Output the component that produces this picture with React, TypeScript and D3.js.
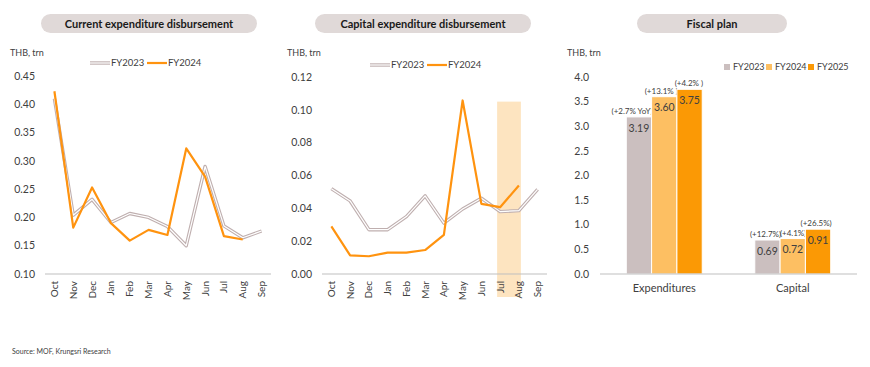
import React from 'react';
import * as d3 from 'd3';

const months = ['Oct', 'Nov', 'Dec', 'Jan', 'Feb', 'Mar', 'Apr', 'May', 'Jun', 'Jul', 'Aug', 'Sep'];

// current expenditure disbursement, THB trn
const currentFY2023 = [0.41, 0.204, 0.232, 0.191, 0.207, 0.2, 0.184, 0.15, 0.29, 0.185, 0.164, 0.176];
const currentFY2024 = [0.423, 0.182, 0.253, 0.19, 0.159, 0.178, 0.169, 0.322, 0.272, 0.167, 0.161, null];

// capital expenditure disbursement, THB trn
const capitalFY2023 = [0.052, 0.0445, 0.027, 0.027, 0.035, 0.0476, 0.031, 0.0396, 0.0462, 0.038, 0.0386, 0.0516];
const capitalFY2024 = [0.029, 0.0114, 0.0108, 0.013, 0.013, 0.0146, 0.0238, 0.1057, 0.0427, 0.0407, 0.0539, null];
const highlightMonths = ['Jul', 'Aug'];
const highlightTop = 0.105;

// fiscal plan
const planCategories = ['Expenditures', 'Capital'];
const planYears = ['FY2023', 'FY2024', 'FY2025'];
const planValues = {
  FY2023: [3.19, 0.69],
  FY2024: [3.6, 0.72],
  FY2025: [3.75, 0.91],
};
// non-breaking space keeps the gap before ")" as in the source labels
const planGrowth = {
  FY2023: ['(+2.7% YoY)', '(+12.7%)'],
  FY2024: ['(+13.1%\u00a0)', '(+4.1%)'],
  FY2025: ['(+4.2%\u00a0)', '(+26.5%)'],
};

const FONT = 'Lato, "Open Sans", sans-serif';
const TEXT = '#404040';
const ORANGE = '#ff930f';
const GREY_OUT = '#bfafaf';
const PILL = '#e0d9d8';
const AXIS = '#bfbfbf';
const barColors = { FY2023: '#cbbfbf', FY2024: '#fdbf62', FY2025: '#fb9905' };

const Pill = ({ x0, x1, label }) => (
  <g>
    <rect x={x0} y={14} width={x1 - x0} height={19} rx={9.5} fill={PILL} />
    <text x={(x0 + x1) / 2} y={27.5} textAnchor="middle" fontWeight="bold" fontSize={11} fill="#1a1a1a">
      {label}
    </text>
  </g>
);

const DoubleLine = ({ d }) => (
  <g>
    <path d={d} fill="none" stroke={GREY_OUT} strokeWidth={3.4} strokeLinejoin="round" />
    <path d={d} fill="none" stroke="#ffffff" strokeWidth={1.2} strokeLinejoin="round" />
  </g>
);

const LinePanel = ({ title, pill, xRange, yDomain, yRange, ticks, fmt, unitX, legendX, legendY, s2023, s2024, highlight }) => {
  const x = d3.scaleBand().domain(months).range(xRange);
  const y = d3.scaleLinear().domain(yDomain).range(yRange);
  const cx = (m) => (x(m) ?? 0) + x.bandwidth() / 2;
  const line = d3
    .line()
    .defined((d) => d[1] != null)
    .x((d) => cx(d[0]))
    .y((d) => y(d[1]));
  const d23 = line(months.map((m, i) => [m, s2023[i]]));
  const d24 = line(months.map((m, i) => [m, s2024[i]]));
  const base = y(yDomain[0]);
  const tickRight = xRange[0] - 10;

  return (
    <g>
      <Pill x0={pill[0]} x1={pill[1]} label={title} />
      <text x={unitX} y={56} fontSize={9} fill={TEXT}>THB, trn</text>
      {highlight && (
        <rect
          x={cx(highlight[0]) - 3}
          y={y(highlightTop)}
          width={cx(highlight[1]) - cx(highlight[0]) + 5}
          height={base - y(highlightTop) + 23}
          fill="#fde4c0"
        />
      )}
      {ticks.map((t) => (
        <text key={t} x={tickRight} y={y(t)} dy="0.35em" textAnchor="end" fontSize={10.5} fill={TEXT}>
          {fmt(t)}
        </text>
      ))}
      <line x1={xRange[0]} x2={xRange[1]} y1={base} y2={base} stroke={AXIS} strokeWidth={1} />
      {months.map((m) => (
        <text
          key={m}
          transform={`translate(${cx(m)},${base + 7}) rotate(-90)`}
          dy="0.35em"
          textAnchor="end"
          fontSize={10}
          fill={TEXT}
        >
          {m}
        </text>
      ))}
      <DoubleLine d={d23} />
      <path d={d24} fill="none" stroke={ORANGE} strokeWidth={2.2} strokeLinejoin="round" />
      <DoubleLine d={`M${legendX},${legendY}H${legendX + 20}`} />
      <text x={legendX + 21} y={legendY} dy="0.35em" fontSize={9.5} fill={TEXT}>FY2023</text>
      <line x1={legendX + 57} x2={legendX + 77} y1={legendY} y2={legendY} stroke={ORANGE} strokeWidth={2.2} />
      <text x={legendX + 78} y={legendY} dy="0.35em" fontSize={9.5} fill={TEXT}>FY2024</text>
    </g>
  );
};

const BarPanel = () => {
  const x0 = d3.scaleBand().domain(planCategories).range([600, 857]).paddingInner(0.409).paddingOuter(0.2045);
  const x1 = d3.scaleBand().domain(planYears).range([0, x0.bandwidth()]);
  const y = d3.scaleLinear().domain([0, 4]).range([274, 77]);
  const ticks = d3.range(0, 4.01, 0.5);
  const legendXs = [724, 766, 808];

  return (
    <g>
      <Pill x0={637} x1={787} label="Fiscal plan" />
      <text x={567} y={56} fontSize={9} fill={TEXT}>THB, trn</text>
      {ticks.map((t) => (
        <text key={t} x={589} y={y(t)} dy="0.35em" textAnchor="end" fontSize={10.5} fill={TEXT}>
          {t.toFixed(1)}
        </text>
      ))}
      {planYears.map((yr) =>
        planCategories.map((c, i) => {
          const v = planValues[yr][i];
          const bx = (x0(c) ?? 0) + (x1(yr) ?? 0);
          const bw = x1.bandwidth();
          return (
            <g key={yr + c}>
              <rect x={bx} y={y(v)} width={bw} height={y(0) - y(v)} fill={barColors[yr]} stroke="#fff" strokeWidth={1} />
              <text x={bx + bw / 2} y={y(v) + 11} dy="0.35em" textAnchor="middle" fontSize={10.5} fill={TEXT}>
                {v.toFixed(2)}
              </text>
              <text x={bx + bw + 1} y={y(v) - 3} textAnchor="end" fontSize={8} fill={TEXT}>
                {planGrowth[yr][i]}
              </text>
            </g>
          );
        })
      )}
      <line x1={600} x2={857} y1={y(0)} y2={y(0)} stroke={AXIS} strokeWidth={1} />
      {planCategories.map((c) => (
        <text key={c} x={(x0(c) ?? 0) + x0.bandwidth() / 2} y={292} textAnchor="middle" fontSize={11} fill={TEXT}>
          {c}
        </text>
      ))}
      {planYears.map((yr, i) => (
        <g key={yr}>
          <rect x={legendXs[i]} y={64} width={6} height={6} fill={barColors[yr]} />
          <text x={legendXs[i] + 9} y={67} dy="0.35em" fontSize={9} fill={TEXT}>{yr}</text>
        </g>
      ))}
    </g>
  );
};

export default function App() {
  return (
    <svg
      width={870}
      height={367}
      style={{ position: 'absolute', left: 0, top: 0, background: '#fff' }}
      fontFamily={FONT}
    >
      <LinePanel
        title="Current expenditure disbursement"
        pill={[41, 257]}
        xRange={[45, 271]}
        yDomain={[0.1, 0.45]}
        yRange={[274, 76]}
        ticks={d3.range(0.1, 0.451, 0.05)}
        fmt={(t) => t.toFixed(2)}
        unitX={10}
        legendX={90}
        legendY={63}
        s2023={currentFY2023}
        s2024={currentFY2024}
      />
      <LinePanel
        title="Capital expenditure disbursement"
        pill={[315, 531]}
        xRange={[322, 547]}
        yDomain={[0, 0.12]}
        yRange={[274, 77]}
        ticks={d3.range(0, 0.121, 0.02)}
        fmt={(t) => t.toFixed(2)}
        unitX={287}
        legendX={370}
        legendY={65}
        s2023={capitalFY2023}
        s2024={capitalFY2024}
        highlight={highlightMonths}
      />
      <BarPanel />
      <text x={12} y={354} fontSize={7} fill={TEXT}>Source: MOF, Krungsri Research</text>
    </svg>
  );
}
